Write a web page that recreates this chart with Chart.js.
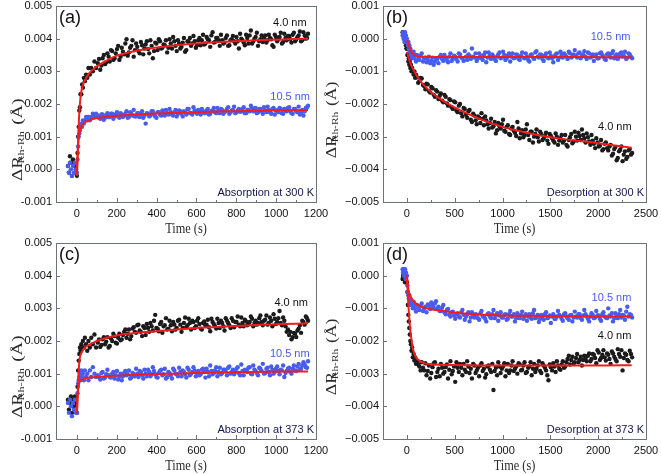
<!DOCTYPE html>
<html>
<head>
<meta charset="utf-8">
<script src="https://cdn.jsdelivr.net/npm/chart.js"></script>
<style>
  body { margin: 0; background: #fff; width: 661px; height: 474px; overflow: hidden; position: relative; }
  canvas { position: absolute; }
</style>
</head>
<body>
<canvas id="cA" width="330" height="237" style="left:0;top:0"></canvas>
<canvas id="cB" width="343" height="237" style="left:318px;top:0"></canvas>
<canvas id="cC" width="330" height="237" style="left:0;top:237px"></canvas>
<canvas id="cD" width="343" height="237" style="left:318px;top:237px"></canvas>
<script>
// ---- axis ticks ----
const xTicksAbs = [0, 200, 400, 600, 800, 1000, 1200];
const xTicksDes = [0, 500, 1000, 1500, 2000, 2500];
const yTicksAbs = [-0.001, 0, 0.001, 0.002, 0.003, 0.004, 0.005];
const yLabelsAbs = ["-0.001", "0.000", "0.001", "0.002", "0.003", "0.004", "0.005"];
const yTicksDes = [-0.005, -0.004, -0.003, -0.002, -0.001, 0, 0.001];
const yLabelsDes = ["\u22120.005", "\u22120.004", "\u22120.003", "\u22120.002", "\u22120.001", "0.000", "0.001"];

// ---- measurement times (s) ----
const timesAbs = [
  -45, -40, -35, -30, -25, -20, -15, -10, -5,
  0, 3, 6, 9, 12, 15, 18, 22, 26, 30, 35, 40, 46, 52, 58, 65, 72, 80, 88, 96,
  105, 117, 129, 141, 153, 165, 177, 189, 201, 213,
  225, 237, 249, 261, 273, 285, 297, 309, 321, 333,
  345, 357, 369, 381, 393, 405, 417, 429, 441, 453,
  465, 477, 489, 501, 513, 525, 537, 549, 561, 573,
  585, 597, 609, 621, 633, 645, 657, 669, 681, 693,
  705, 717, 729, 741, 753, 765, 777, 789, 801, 813,
  825, 837, 849, 861, 873, 885, 897, 909, 921, 933,
  945, 957, 969, 981, 993, 1005, 1017, 1029, 1041, 1053,
  1065, 1077, 1089, 1101, 1113, 1125, 1137, 1149, 1160,
];
const timesAbs2 = [
  111, 123, 135, 147, 159, 171, 183, 195, 207, 219,
  231, 243, 255, 267, 279, 291, 303, 315, 327, 339,
  351, 363, 375, 387, 399, 411, 423, 435, 447, 459,
  471, 483, 495, 507, 519, 531, 543, 555, 567, 579,
  591, 603, 615, 627, 639, 651, 663, 675, 687, 699,
  711, 723, 735, 747, 759, 771, 783, 795, 807, 819,
  831, 843, 855, 867, 879, 891, 903, 915, 927, 939,
  951, 963, 975, 987, 999, 1011, 1023, 1035, 1047, 1059,
  1071, 1083, 1095, 1107, 1119, 1131, 1143, 1155,
];
const timesDes = [
  -45, -40, -35, -30, -25, -20, -15, -10, -5,
  0, 5, 10, 15, 20, 25, 30, 36, 42, 48, 55, 62, 70, 78, 86, 95,
  105, 130, 155, 180, 205, 230, 255, 280, 305, 330,
  355, 380, 405, 430, 455, 480, 505, 530, 555, 580,
  605, 630, 655, 680, 705, 730, 755, 780, 805, 830,
  855, 880, 905, 930, 955, 980, 1005, 1030, 1055, 1080,
  1105, 1130, 1155, 1180, 1205, 1230, 1255, 1280, 1305, 1330,
  1355, 1380, 1405, 1430, 1455, 1480, 1505, 1530, 1555, 1580,
  1605, 1630, 1655, 1680, 1705, 1730, 1755, 1780, 1805, 1830,
  1855, 1880, 1905, 1930, 1955, 1980, 2005, 2030, 2055, 2080,
  2105, 2130, 2155, 2180, 2205, 2230, 2255, 2280, 2305, 2330,
  2355,
];
const timesDes2 = [
  118, 143, 168, 193, 218, 243, 268, 293, 318, 343,
  368, 393, 418, 443, 468, 493, 518, 543, 568, 593,
  618, 643, 668, 693, 718, 743, 768, 793, 818, 843,
  868, 893, 918, 943, 968, 993, 1018, 1043, 1068, 1093,
  1118, 1143, 1168, 1193, 1218, 1243, 1268, 1293, 1318, 1343,
  1368, 1393, 1418, 1443, 1468, 1493, 1518, 1543, 1568, 1593,
  1618, 1643, 1668, 1693, 1718, 1743, 1768, 1793, 1818, 1843,
  1868, 1893, 1918, 1943, 1968, 1993, 2018, 2043, 2068, 2093,
  2118, 2143, 2168, 2193, 2218, 2243, 2268, 2293, 2318, 2343,
];

// ---- (a) absorption at 300 K ----
const absA40 = [
  0.0001, -0.0001, 0.0004, 0.0002, -0.0002, 0.0003, 0.0001, -0.0001, 0.0000,
  -0.0002, 0.0005, 0.0010, 0.0013, 0.0018, 0.0019, 0.0023, 0.0023, 0.0026, 0.0025, 0.0028, 0.0027, 0.0029, 0.0028, 0.0031, 0.0029, 0.0031, 0.0030, 0.0033, 0.0031,
  0.00325, 0.00305, 0.00340, 0.00322, 0.00355, 0.00330, 0.00362, 0.00340, 0.00368, 0.00335,
  0.00372, 0.00352, 0.00398, 0.00358, 0.00378, 0.00345, 0.00385, 0.00362, 0.00390, 0.00352,
  0.00382, 0.00368, 0.00395, 0.00340, 0.00388, 0.00365, 0.00392, 0.00372, 0.00380, 0.00358,
  0.00398, 0.00370, 0.00392, 0.00362, 0.00385, 0.00375, 0.00402, 0.00365, 0.00390, 0.00378,
  0.00408, 0.00372, 0.00395, 0.00380, 0.00412, 0.00385, 0.00398, 0.00375, 0.00420, 0.00390,
  0.00402, 0.00378, 0.00395, 0.00388, 0.00410, 0.00380, 0.00398, 0.00392, 0.00405, 0.00370,
  0.00400, 0.00388, 0.00412, 0.00385, 0.00425, 0.00392, 0.00405, 0.00378, 0.00398, 0.00390,
  0.00410, 0.00395, 0.00402, 0.00380, 0.00412, 0.00392, 0.00405, 0.00385, 0.00415, 0.00395,
  0.00408, 0.00388, 0.00418, 0.00398, 0.00410, 0.00392, 0.00420, 0.00400, 0.00415,
];
const absA40b = [
  0.00338, 0.00318, 0.00350, 0.00328, 0.00345, 0.00365, 0.00335, 0.00355, 0.00378, 0.00345,
  0.00360, 0.00385, 0.00348, 0.00372, 0.00395, 0.00365, 0.00375, 0.00355, 0.00380, 0.00370,
  0.00392, 0.00355, 0.00378, 0.00362, 0.00385, 0.00398, 0.00370, 0.00382, 0.00395, 0.00372,
  0.00385, 0.00405, 0.00378, 0.00395, 0.00370, 0.00388, 0.00360, 0.00392, 0.00402, 0.00385,
  0.00392, 0.00380, 0.00402, 0.00395, 0.00382, 0.00405, 0.00395, 0.00410, 0.00388, 0.00402,
  0.00395, 0.00412, 0.00385, 0.00402, 0.00378, 0.00395, 0.00408, 0.00385, 0.00392, 0.00415,
  0.00395, 0.00380, 0.00402, 0.00410, 0.00385, 0.00400, 0.00418, 0.00392, 0.00410, 0.00402,
  0.00388, 0.00412, 0.00398, 0.00375, 0.00405, 0.00398, 0.00418, 0.00390, 0.00402, 0.00408,
  0.00398, 0.00412, 0.00392, 0.00405, 0.00422, 0.00395, 0.00410, 0.00402,
];
const absA105 = [
  0.0001, -0.0001, 0.0002, 0.0000, -0.0002, 0.0001, -0.0001, 0.0002, 0.0000,
  -0.0001, 0.0003, 0.0007, 0.0010, 0.0011, 0.0012, 0.0013, 0.0014, 0.0013, 0.0015, 0.0014, 0.0015, 0.0016, 0.0015, 0.0016, 0.0015, 0.0016, 0.0017, 0.0016, 0.0017,
  0.00165, 0.00155, 0.00168, 0.00158, 0.00172, 0.00160, 0.00170, 0.00162, 0.00175, 0.00158,
  0.00168, 0.00165, 0.00178, 0.00160, 0.00170, 0.00182, 0.00162, 0.00172, 0.00168, 0.00158,
  0.00140, 0.00170, 0.00165, 0.00178, 0.00162, 0.00175, 0.00168, 0.00180, 0.00165, 0.00172,
  0.00185, 0.00168, 0.00175, 0.00162, 0.00180, 0.00170, 0.00178, 0.00168, 0.00185, 0.00172,
  0.00190, 0.00175, 0.00182, 0.00168, 0.00178, 0.00172, 0.00185, 0.00170, 0.00180, 0.00175,
  0.00188, 0.00172, 0.00182, 0.00176, 0.00185, 0.00170, 0.00180, 0.00192, 0.00175, 0.00185,
  0.00178, 0.00190, 0.00172, 0.00182, 0.00195, 0.00178, 0.00188, 0.00175, 0.00185, 0.00170,
  0.00180, 0.00192, 0.00175, 0.00185, 0.00168, 0.00180, 0.00188, 0.00172, 0.00185, 0.00178,
  0.00190, 0.00172, 0.00185, 0.00178, 0.00192, 0.00175, 0.00165, 0.00188, 0.00195,
];
const absA105b = [
  0.00158, 0.00168, 0.00152, 0.00165, 0.00160, 0.00170, 0.00155, 0.00168, 0.00162, 0.00172,
  0.00160, 0.00170, 0.00158, 0.00175, 0.00165, 0.00162, 0.00172, 0.00160, 0.00178, 0.00165,
  0.00172, 0.00162, 0.00178, 0.00168, 0.00158, 0.00175, 0.00165, 0.00172, 0.00182, 0.00168,
  0.00175, 0.00165, 0.00182, 0.00170, 0.00178, 0.00162, 0.00175, 0.00185, 0.00172, 0.00168,
  0.00180, 0.00170, 0.00178, 0.00185, 0.00172, 0.00180, 0.00168, 0.00178, 0.00188, 0.00172,
  0.00180, 0.00185, 0.00170, 0.00178, 0.00190, 0.00175, 0.00182, 0.00172, 0.00180, 0.00176,
  0.00185, 0.00172, 0.00182, 0.00178, 0.00188, 0.00180, 0.00172, 0.00185, 0.00178, 0.00190,
  0.00175, 0.00182, 0.00170, 0.00188, 0.00180, 0.00175, 0.00185, 0.00170, 0.00180, 0.00188,
  0.00178, 0.00170, 0.00185, 0.00175, 0.00168, 0.00182, 0.00178, 0.00190,
];

// ---- (c) absorption at 373 K ----
const absC40 = [
  0.0002, -0.0001, 0.0001, 0.0003, -0.0002, 0.0002, 0.0000, 0.0003, 0.0001,
  -0.0002, 0.0006, 0.0011, 0.0014, 0.0016, 0.0018, 0.0017, 0.0019, 0.0018, 0.0020, 0.0018, 0.0021, 0.0019, 0.0017, 0.0020, 0.0018, 0.0021, 0.0019, 0.0022, 0.0018,
  0.00195, 0.00182, 0.00205, 0.00190, 0.00212, 0.00185, 0.00200, 0.00215, 0.00192, 0.00222,
  0.00205, 0.00228, 0.00210, 0.00235, 0.00215, 0.00242, 0.00225, 0.00250, 0.00228, 0.00245,
  0.00218, 0.00240, 0.00255, 0.00232, 0.00280, 0.00238, 0.00252, 0.00225, 0.00248, 0.00235,
  0.00262, 0.00230, 0.00250, 0.00240, 0.00265, 0.00228, 0.00255, 0.00242, 0.00268, 0.00235,
  0.00258, 0.00245, 0.00270, 0.00238, 0.00255, 0.00248, 0.00265, 0.00230, 0.00258, 0.00245,
  0.00268, 0.00240, 0.00255, 0.00232, 0.00262, 0.00248, 0.00270, 0.00242, 0.00258, 0.00250,
  0.00272, 0.00245, 0.00260, 0.00252, 0.00275, 0.00245, 0.00262, 0.00255, 0.00278, 0.00248,
  0.00265, 0.00250, 0.00272, 0.00245, 0.00268, 0.00258, 0.00292, 0.00248, 0.00262, 0.00228,
  0.00218, 0.00205, 0.00225, 0.00212, 0.00238, 0.00225, 0.00258, 0.00275, 0.00262,
];
const absC40b = [
  0.00205, 0.00188, 0.00212, 0.00198, 0.00180, 0.00208, 0.00222, 0.00195, 0.00210, 0.00202,
  0.00218, 0.00235, 0.00222, 0.00205, 0.00238, 0.00228, 0.00248, 0.00232, 0.00215, 0.00240,
  0.00252, 0.00228, 0.00245, 0.00262, 0.00240, 0.00230, 0.00258, 0.00245, 0.00270, 0.00238,
  0.00248, 0.00258, 0.00235, 0.00262, 0.00250, 0.00240, 0.00272, 0.00248, 0.00255, 0.00262,
  0.00240, 0.00262, 0.00252, 0.00235, 0.00260, 0.00250, 0.00242, 0.00268, 0.00252, 0.00238,
  0.00255, 0.00262, 0.00245, 0.00270, 0.00255, 0.00240, 0.00262, 0.00258, 0.00275, 0.00245,
  0.00255, 0.00265, 0.00248, 0.00258, 0.00268, 0.00255, 0.00250, 0.00270, 0.00258, 0.00262,
  0.00278, 0.00255, 0.00262, 0.00282, 0.00252, 0.00270, 0.00255, 0.00272, 0.00245, 0.00235,
  0.00228, 0.00212, 0.00222, 0.00232, 0.00248, 0.00262, 0.00250, 0.00270,
];
const absC105 = [
  0.0001, -0.0002, 0.0002, 0.0000, -0.0003, 0.0001, -0.0001, 0.0002, -0.0002,
  -0.0002, 0.0004, 0.0007, 0.0008, 0.0009, 0.0010, 0.0008, 0.0011, 0.0009, 0.0010, 0.0008, 0.0011, 0.0009, 0.0010, 0.0008, 0.0011, 0.0009, 0.0012, 0.0010, 0.0009,
  0.00095, 0.00082, 0.00105, 0.00088, 0.00112, 0.00090, 0.00100, 0.00085, 0.00108, 0.00092,
  0.00080, 0.00102, 0.00095, 0.00110, 0.00088, 0.00098, 0.00115, 0.00090, 0.00105, 0.00085,
  0.00100, 0.00112, 0.00092, 0.00120, 0.00098, 0.00088, 0.00108, 0.00095, 0.00115, 0.00090,
  0.00102, 0.00085, 0.00110, 0.00098, 0.00118, 0.00092, 0.00105, 0.00088, 0.00112, 0.00100,
  0.00120, 0.00092, 0.00108, 0.00098, 0.00115, 0.00088, 0.00105, 0.00125, 0.00098, 0.00110,
  0.00092, 0.00118, 0.00102, 0.00112, 0.00095, 0.00122, 0.00105, 0.00098, 0.00115, 0.00102,
  0.00128, 0.00095, 0.00110, 0.00118, 0.00100, 0.00125, 0.00108, 0.00095, 0.00115, 0.00130,
  0.00102, 0.00118, 0.00095, 0.00112, 0.00105, 0.00122, 0.00098, 0.00110, 0.00090, 0.00108,
  0.00118, 0.00100, 0.00125, 0.00108, 0.00130, 0.00115, 0.00135, 0.00120, 0.00138,
];
const absC105b = [
  0.00090, 0.00102, 0.00085, 0.00098, 0.00095, 0.00088, 0.00105, 0.00095, 0.00082, 0.00100,
  0.00092, 0.00108, 0.00098, 0.00085, 0.00102, 0.00092, 0.00100, 0.00108, 0.00095, 0.00112,
  0.00092, 0.00105, 0.00098, 0.00108, 0.00090, 0.00102, 0.00112, 0.00098, 0.00085, 0.00105,
  0.00095, 0.00115, 0.00100, 0.00092, 0.00105, 0.00110, 0.00098, 0.00118, 0.00095, 0.00105,
  0.00110, 0.00102, 0.00095, 0.00112, 0.00105, 0.00115, 0.00092, 0.00108, 0.00102, 0.00120,
  0.00105, 0.00098, 0.00112, 0.00108, 0.00118, 0.00100, 0.00112, 0.00105, 0.00120, 0.00095,
  0.00108, 0.00112, 0.00105, 0.00120, 0.00098, 0.00112, 0.00102, 0.00118, 0.00108, 0.00100,
  0.00115, 0.00105, 0.00122, 0.00100, 0.00115, 0.00108, 0.00112, 0.00125, 0.00102, 0.00115,
  0.00105, 0.00115, 0.00110, 0.00122, 0.00112, 0.00125, 0.00128, 0.00118,
];

// ---- (b) desorption at 300 K ----
const desB40 = [
  0.0002, 0.0001, 0.0002, 0.0000, 0.0001, -0.0001, 0.0000, -0.0002, -0.0003,
  -0.0003, -0.0005, -0.0005, -0.0007, -0.0006, -0.0008, -0.0007, -0.0009, -0.0008, -0.0010, -0.0009, -0.0010, -0.0011, -0.0010, -0.0012, -0.0011,
  -0.00118, -0.00130, -0.00122, -0.00145, -0.00138, -0.00160, -0.00148, -0.00172, -0.00158, -0.00185,
  -0.00168, -0.00195, -0.00178, -0.00205, -0.00188, -0.00215, -0.00195, -0.00225, -0.00200, -0.00238,
  -0.00215, -0.00242, -0.00218, -0.00255, -0.00235, -0.00262, -0.00242, -0.00228, -0.00265, -0.00250,
  -0.00275, -0.00245, -0.00268, -0.00290, -0.00258, -0.00275, -0.00248, -0.00285, -0.00265, -0.00295,
  -0.00270, -0.00288, -0.00255, -0.00305, -0.00280, -0.00295, -0.00262, -0.00310, -0.00285, -0.00300,
  -0.00278, -0.00315, -0.00292, -0.00305, -0.00288, -0.00322, -0.00298, -0.00312, -0.00290, -0.00325,
  -0.00305, -0.00318, -0.00295, -0.00330, -0.00302, -0.00320, -0.00285, -0.00312, -0.00298, -0.00278,
  -0.00305, -0.00290, -0.00315, -0.00295, -0.00322, -0.00305, -0.00330, -0.00310, -0.00338, -0.00318,
  -0.00342, -0.00325, -0.00352, -0.00332, -0.00365, -0.00340, -0.00375, -0.00345, -0.00362, -0.00338,
  -0.00350,
];
const desB40b = [
  -0.00135, -0.00120, -0.00142, -0.00155, -0.00140, -0.00165, -0.00152, -0.00178, -0.00162, -0.00175,
  -0.00190, -0.00172, -0.00198, -0.00185, -0.00210, -0.00192, -0.00220, -0.00205, -0.00228, -0.00212,
  -0.00232, -0.00222, -0.00248, -0.00230, -0.00250, -0.00238, -0.00258, -0.00245, -0.00238, -0.00262,
  -0.00258, -0.00272, -0.00255, -0.00280, -0.00268, -0.00262, -0.00282, -0.00270, -0.00292, -0.00275,
  -0.00282, -0.00298, -0.00275, -0.00290, -0.00302, -0.00278, -0.00295, -0.00285, -0.00318, -0.00292,
  -0.00302, -0.00285, -0.00310, -0.00298, -0.00312, -0.00292, -0.00305, -0.00318, -0.00300, -0.00312,
  -0.00295, -0.00312, -0.00325, -0.00310, -0.00292, -0.00315, -0.00300, -0.00288, -0.00310, -0.00295,
  -0.00318, -0.00302, -0.00325, -0.00312, -0.00335, -0.00318, -0.00328, -0.00342, -0.00322, -0.00335,
  -0.00330, -0.00358, -0.00338, -0.00372, -0.00345, -0.00330, -0.00355, -0.00368, -0.00342, -0.00355,
];
const desB105 = [
  0.0001, 0.0002, 0.0000, 0.0001, -0.0001, 0.0002, 0.0000, 0.0001, -0.0001,
  0.0000, -0.0001, -0.0002, -0.0001, -0.0003, -0.0002, -0.0004, -0.0003, -0.0005, -0.0004, -0.0006, -0.0005, -0.0004, -0.0006, -0.0005, -0.0007,
  -0.00050, -0.00065, -0.00045, -0.00060, -0.00072, -0.00055, -0.00068, -0.00080, -0.00060, -0.00075,
  -0.00050, -0.00068, -0.00058, -0.00072, -0.00045, -0.00062, -0.00055, -0.00070, -0.00048, -0.00060,
  -0.00038, -0.00065, -0.00052, -0.00030, -0.00058, -0.00068, -0.00045, -0.00060, -0.00050, -0.00072,
  -0.00042, -0.00062, -0.00055, -0.00068, -0.00048, -0.00060, -0.00040, -0.00065, -0.00052, -0.00070,
  -0.00045, -0.00058, -0.00050, -0.00065, -0.00042, -0.00060, -0.00055, -0.00070, -0.00048, -0.00062,
  -0.00038, -0.00058, -0.00050, -0.00068, -0.00045, -0.00060, -0.00052, -0.00072, -0.00048, -0.00065,
  -0.00040, -0.00058, -0.00050, -0.00062, -0.00045, -0.00055, -0.00035, -0.00058, -0.00042, -0.00052,
  -0.00038, -0.00062, -0.00045, -0.00055, -0.00068, -0.00048, -0.00060, -0.00042, -0.00055, -0.00065,
  -0.00045, -0.00058, -0.00038, -0.00052, -0.00062, -0.00045, -0.00055, -0.00040, -0.00058, -0.00048,
  -0.00060,
];
const desB105b = [
  -0.00062, -0.00052, -0.00070, -0.00058, -0.00065, -0.00075, -0.00058, -0.00070, -0.00062, -0.00055,
  -0.00062, -0.00050, -0.00065, -0.00055, -0.00068, -0.00052, -0.00062, -0.00045, -0.00058, -0.00068,
  -0.00055, -0.00048, -0.00062, -0.00055, -0.00045, -0.00060, -0.00052, -0.00065, -0.00042, -0.00058,
  -0.00052, -0.00048, -0.00062, -0.00055, -0.00042, -0.00058, -0.00050, -0.00060, -0.00045, -0.00055,
  -0.00060, -0.00048, -0.00062, -0.00052, -0.00058, -0.00045, -0.00065, -0.00050, -0.00058, -0.00042,
  -0.00055, -0.00048, -0.00062, -0.00052, -0.00058, -0.00042, -0.00060, -0.00055, -0.00045, -0.00058,
  -0.00050, -0.00045, -0.00055, -0.00040, -0.00058, -0.00048, -0.00052, -0.00045, -0.00060, -0.00048,
  -0.00055, -0.00042, -0.00058, -0.00048, -0.00052, -0.00060, -0.00045, -0.00050, -0.00062, -0.00048,
  -0.00052, -0.00045, -0.00060, -0.00048, -0.00055, -0.00042, -0.00052, -0.00062, -0.00045, -0.00055,
];

// ---- (d) desorption at 373 K ----
const desD40 = [
  -0.0001, 0.0000, 0.0001, -0.0001, 0.0000, -0.0002, 0.0000, -0.0001, -0.0002,
  -0.0002, -0.0005, -0.0009, -0.0012, -0.0014, -0.0016, -0.0018, -0.0020, -0.0021, -0.0023, -0.0022, -0.0025, -0.0024, -0.0026, -0.0025, -0.0027,
  -0.00262, -0.00278, -0.00265, -0.00290, -0.00305, -0.00275, -0.00298, -0.00268, -0.00310, -0.00285,
  -0.00270, -0.00300, -0.00280, -0.00315, -0.00262, -0.00292, -0.00325, -0.00282, -0.00270, -0.00305,
  -0.00288, -0.00262, -0.00298, -0.00315, -0.00275, -0.00290, -0.00308, -0.00268, -0.00285, -0.00302,
  -0.00275, -0.00295, -0.00350, -0.00282, -0.00265, -0.00298, -0.00278, -0.00308, -0.00270, -0.00290,
  -0.00262, -0.00285, -0.00300, -0.00272, -0.00288, -0.00265, -0.00295, -0.00278, -0.00305, -0.00270,
  -0.00285, -0.00262, -0.00298, -0.00275, -0.00290, -0.00320, -0.00280, -0.00268, -0.00295, -0.00275,
  -0.00288, -0.00262, -0.00278, -0.00255, -0.00272, -0.00248, -0.00265, -0.00240, -0.00258, -0.00275,
  -0.00245, -0.00262, -0.00238, -0.00255, -0.00242, -0.00268, -0.00235, -0.00252, -0.00228, -0.00260,
  -0.00242, -0.00270, -0.00238, -0.00255, -0.00225, -0.00248, -0.00290, -0.00238, -0.00258, -0.00230,
  -0.00250,
];
const desD40b = [
  -0.00272, -0.00290, -0.00282, -0.00268, -0.00292, -0.00315, -0.00280, -0.00265, -0.00295, -0.00308,
  -0.00282, -0.00295, -0.00272, -0.00288, -0.00302, -0.00278, -0.00265, -0.00295, -0.00282, -0.00270,
  -0.00295, -0.00278, -0.00285, -0.00270, -0.00298, -0.00282, -0.00275, -0.00292, -0.00312, -0.00278,
  -0.00288, -0.00270, -0.00292, -0.00305, -0.00278, -0.00285, -0.00268, -0.00290, -0.00298, -0.00275,
  -0.00292, -0.00278, -0.00268, -0.00290, -0.00275, -0.00298, -0.00282, -0.00265, -0.00285, -0.00295,
  -0.00275, -0.00292, -0.00268, -0.00282, -0.00305, -0.00272, -0.00290, -0.00278, -0.00262, -0.00285,
  -0.00272, -0.00282, -0.00265, -0.00245, -0.00258, -0.00270, -0.00252, -0.00265, -0.00248, -0.00258,
  -0.00252, -0.00245, -0.00262, -0.00240, -0.00252, -0.00228, -0.00258, -0.00242, -0.00250, -0.00238,
  -0.00255, -0.00232, -0.00248, -0.00262, -0.00240, -0.00228, -0.00252, -0.00242, -0.00262, -0.00240,
];
const desD105 = [
  0.0002, 0.0001, 0.0002, 0.0000, 0.0001, 0.0002, -0.0001, 0.0001, 0.0000,
  0.0000, -0.0003, -0.0005, -0.0006, -0.0007, -0.0006, -0.0008, -0.0007, -0.0009, -0.0008, -0.0009, -0.0010, -0.0008, -0.0010, -0.0009, -0.0011,
  -0.00090, -0.00105, -0.00085, -0.00100, -0.00112, -0.00092, -0.00082, -0.00098, -0.00078, -0.00095,
  -0.00108, -0.00090, -0.00118, -0.00102, -0.00125, -0.00110, -0.00132, -0.00115, -0.00128, -0.00105,
  -0.00135, -0.00118, -0.00140, -0.00112, -0.00128, -0.00120, -0.00135, -0.00108, -0.00125, -0.00140,
  -0.00115, -0.00130, -0.00105, -0.00122, -0.00138, -0.00112, -0.00128, -0.00118, -0.00132, -0.00108,
  -0.00125, -0.00140, -0.00115, -0.00130, -0.00110, -0.00125, -0.00138, -0.00118, -0.00132, -0.00105,
  -0.00128, -0.00142, -0.00120, -0.00135, -0.00112, -0.00128, -0.00145, -0.00118, -0.00132, -0.00108,
  -0.00125, -0.00138, -0.00115, -0.00130, -0.00122, -0.00140, -0.00110, -0.00128, -0.00118, -0.00135,
  -0.00105, -0.00125, -0.00140, -0.00115, -0.00130, -0.00108, -0.00122, -0.00138, -0.00112, -0.00128,
  -0.00100, -0.00125, -0.00140, -0.00115, -0.00130, -0.00105, -0.00120, -0.00135, -0.00095, -0.00118,
  -0.00128,
];
const desD105b = [
  -0.00100, -0.00092, -0.00108, -0.00095, -0.00088, -0.00102, -0.00092, -0.00085, -0.00100, -0.00108,
  -0.00098, -0.00112, -0.00105, -0.00120, -0.00112, -0.00122, -0.00118, -0.00125, -0.00112, -0.00120,
  -0.00125, -0.00112, -0.00128, -0.00122, -0.00118, -0.00130, -0.00115, -0.00125, -0.00132, -0.00118,
  -0.00125, -0.00118, -0.00130, -0.00115, -0.00122, -0.00128, -0.00120, -0.00135, -0.00118, -0.00125,
  -0.00118, -0.00130, -0.00122, -0.00120, -0.00132, -0.00118, -0.00125, -0.00128, -0.00115, -0.00130,
  -0.00120, -0.00132, -0.00125, -0.00118, -0.00130, -0.00122, -0.00125, -0.00132, -0.00125, -0.00120,
  -0.00132, -0.00118, -0.00125, -0.00135, -0.00120, -0.00128, -0.00125, -0.00118, -0.00130, -0.00122,
  -0.00118, -0.00132, -0.00125, -0.00120, -0.00128, -0.00122, -0.00132, -0.00118, -0.00125, -0.00130,
  -0.00122, -0.00115, -0.00130, -0.00125, -0.00118, -0.00128, -0.00122, -0.00110, -0.00125, -0.00120,
];

// ---- fitted curves ----
const fitTimesAbs = [0, 5, 10, 15, 20, 30, 40, 60, 80, 100, 150, 200, 300, 400, 500, 600, 700, 800, 900, 1000, 1100, 1160];
const fitA40 = [-0.0002, 0.0007, 0.0015, 0.0020, 0.0023, 0.00258, 0.00272, 0.00293, 0.00305, 0.00315, 0.00333, 0.00348, 0.00363, 0.00373, 0.0038, 0.00385, 0.00389, 0.00392, 0.00395, 0.00397, 0.00399, 0.0040];
const fitA105 = [-0.0001, 0.0006, 0.0010, 0.00118, 0.00128, 0.00138, 0.00144, 0.0015, 0.00154, 0.00157, 0.00161, 0.00164, 0.00168, 0.00171, 0.00173, 0.00175, 0.00177, 0.00178, 0.00179, 0.0018, 0.00181, 0.00182];
const fitC40 = [-0.0002, 0.0006, 0.0012, 0.0015, 0.0016, 0.00172, 0.0018, 0.00188, 0.00194, 0.0020, 0.0021, 0.00217, 0.00225, 0.0023, 0.00235, 0.0024, 0.00243, 0.00246, 0.00249, 0.00251, 0.00253, 0.00254];
const fitC105 = [-0.0002, 0.0004, 0.0007, 0.00076, 0.0008, 0.00083, 0.00085, 0.00088, 0.00089, 0.0009, 0.00092, 0.00094, 0.00097, 0.00099, 0.0010, 0.00102, 0.00103, 0.00104, 0.00105, 0.00106, 0.00107, 0.00107];
const fitTimesDes = [0, 10, 20, 30, 40, 50, 60, 80, 100, 130, 170, 250, 400, 600, 800, 1000, 1300, 1600, 2000, 2350];
const fitB40 = [-0.0004, -0.0005, -0.0006, -0.0007, -0.00078, -0.00085, -0.00091, -0.00102, -0.00112, -0.00125, -0.0014, -0.00163, -0.00194, -0.00225, -0.0025, -0.0027, -0.00291, -0.00306, -0.0032, -0.00334];
const fitB105 = [-0.00005, -0.0001, -0.0002, -0.00028, -0.00035, -0.0004, -0.00045, -0.0005, -0.00053, -0.00055, -0.00055, -0.00056, -0.00056, -0.00056, -0.00056, -0.00056, -0.00056, -0.00056, -0.00057, -0.00057];
const fitD40 = [0.0, -0.0006, -0.0011, -0.0015, -0.0018, -0.0020, -0.0022, -0.0024, -0.00252, -0.0026, -0.00267, -0.00271, -0.00273, -0.00274, -0.00275, -0.00275, -0.00275, -0.00275, -0.00275, -0.00274];
const fitD105 = [0.0, -0.0003, -0.00048, -0.00058, -0.00065, -0.0007, -0.00074, -0.00081, -0.00087, -0.00092, -0.00097, -0.00103, -0.00109, -0.00116, -0.0012, -0.00122, -0.00123, -0.00124, -0.00125, -0.00125];

const BLACK = "#1b1b1b";
const BLUE = "rgb(72, 92, 238)";
const RED = "rgb(242, 28, 28)";
const FRAME = "#6a737c";
const SANS = '"Liberation Sans", Arial, sans-serif';
const SERIF = '"Liberation Serif", "Times New Roman", serif';

function pts(xs, ys) {
  return xs.map((x, i) => ({ x, y: ys[i] }));
}

function drawYTitle(ctx, cx, cy, len) {
  ctx.save();
  ctx.translate(cx, cy);
  ctx.rotate(-Math.PI / 2);
  const big = "14px " + SERIF, small = "9px " + SERIF;
  ctx.font = big;
  const w1 = ctx.measureText("\u0394R").width;
  const w3 = ctx.measureText("(\u00c5)").width;
  ctx.font = small;
  const w2 = ctx.measureText("Rh-Rh").width;
  const total = w1 + w2 + w3;
  ctx.scale(len / total, 1);
  ctx.fillStyle = "#2b2b2b";
  ctx.textBaseline = "middle";
  let x = -total / 2;
  ctx.font = big; ctx.fillText("\u0394R", x, 0); x += w1;
  ctx.font = small; ctx.fillText("Rh-Rh", x, 4); x += w2;
  ctx.font = big; ctx.fillText("(\u00c5)", x, 0);
  ctx.restore();
}

// frame, inward ticks and all the text that is not a tick label
const decor = {
  id: "decor",
  afterDraw(chart, args, o) {
    const { ctx, chartArea: a } = chart;
    const sx = chart.scales.x, sy = chart.scales.y;
    ctx.save();
    ctx.strokeStyle = FRAME;
    ctx.lineWidth = 1;
    ctx.strokeRect(Math.round(a.left) + 0.5, Math.round(a.top) + 0.5, Math.round(a.right - a.left), Math.round(a.bottom - a.top));
    const tick = (x1, y1, x2, y2) => { ctx.beginPath(); ctx.moveTo(x1, y1); ctx.lineTo(x2, y2); ctx.stroke(); };
    const xt = o.xTicks;
    xt.forEach((v, i) => {
      const px = Math.round(sx.getPixelForValue(v)) + 0.5;
      if (px > a.left + 1 && px < a.right - 1) tick(px, a.bottom, px, a.bottom - 4);
      if (i < xt.length - 1) {
        const mx = Math.round(sx.getPixelForValue((v + xt[i + 1]) / 2)) + 0.5;
        if (mx < a.right - 1) tick(mx, a.bottom, mx, a.bottom - 2);
      }
    });
    o.yTicks.forEach((v) => {
      const py = Math.round(sy.getPixelForValue(v)) + 0.5;
      if (py > a.top + 1 && py < a.bottom - 1) tick(a.left, py, a.left + 4, py);
    });
    // panel letter
    ctx.fillStyle = "#111";
    ctx.font = "18px " + SANS;
    ctx.textBaseline = "middle";
    ctx.textAlign = "left";
    ctx.fillText(o.letter, a.left + 3, a.top + 12);
    // series labels
    ctx.font = "11px " + SANS;
    ctx.textAlign = "right";
    o.labels.forEach((l) => {
      ctx.fillStyle = l.color;
      ctx.fillText(l.text, sx.getPixelForValue(l.x), sy.getPixelForValue(l.y));
    });
    ctx.fillStyle = "#15154f";
    ctx.fillText(o.cond, a.right - 2, a.bottom - 9.5);
    // x title
    ctx.save();
    ctx.translate((a.left + a.right) / 2, 229);
    ctx.scale(0.88, 1);
    ctx.textAlign = "center";
    ctx.fillStyle = "#2b2b2b";
    ctx.font = "14px " + SERIF;
    ctx.fillText("Time (s)", 0, 0);
    ctx.restore();
    drawYTitle(ctx, o.yTitleX, o.yTitleY, o.yTitleLen);
    ctx.restore();
  },
};

function panel(id, o) {
  const dot = (data, color, order) => ({
    data, order,
    pointRadius: 2.2,
    pointHoverRadius: 0,
    pointBorderWidth: 0,
    backgroundColor: color,
    borderColor: color,
  });
  const fit = (data) => ({
    type: "line", data, order: 0,
    borderColor: RED, borderWidth: 2, pointRadius: 0,
    cubicInterpolationMode: "monotone", fill: false,
  });
  return new Chart(document.getElementById(id), {
    type: "scatter",
    data: {
      datasets: [
        fit(pts(o.fitX, o.fit40)),
        fit(pts(o.fitX, o.fit105)),
        dot(pts(o.tx, o.y105).concat(pts(o.tx2, o.y105b)), BLUE, 1),
        dot(pts(o.tx, o.y40).concat(pts(o.tx2, o.y40b)), BLACK, 2),
      ],
    },
    plugins: [decor],
    options: {
      responsive: false,
      animation: false,
      events: [],
      layout: { padding: { left: 0, top: 6, right: o.padRight, bottom: 0 } },
      plugins: {
        legend: { display: false },
        tooltip: { enabled: false },
        decor: o.decor,
      },
      scales: {
        x: {
          type: "linear", min: o.xMin, max: o.xMax,
          afterBuildTicks: (s) => { s.ticks = o.decor.xTicks.map((v) => ({ value: v })); },
          afterFit: (s) => { s.height = 35; s.paddingLeft = 0; s.paddingRight = 0; },
          grid: { display: false, drawTicks: false },
          border: { display: false },
          ticks: { padding: 5, color: "#111", font: { family: SANS, size: 11 }, maxRotation: 0, autoSkip: false, callback: (v) => String(v) },
        },
        y: {
          type: "linear", min: o.yMin, max: o.yMax,
          afterBuildTicks: (s) => { s.ticks = o.decor.yTicks.map((v) => ({ value: v })); },
          afterFit: (s) => { s.width = o.yWidth; s.paddingTop = 0; s.paddingBottom = 0; },
          grid: { display: false, drawTicks: false },
          border: { display: false },
          ticks: { padding: 4, color: "#111", font: { family: SANS, size: 11 }, autoSkip: false, callback: (v, i) => o.yLabels[i] },
        },
      },
    },
  });
}

panel("cA", {
  tx: timesAbs, y40: absA40, y105: absA105, tx2: timesAbs2, y40b: absA40b, y105b: absA105b,
  fitX: fitTimesAbs, fit40: fitA40, fit105: fitA105,
  xMin: -105, xMax: 1200, yMin: -0.001, yMax: 0.005, yLabels: yLabelsAbs, yWidth: 56, padRight: 14,
  decor: {
    xTicks: xTicksAbs, yTicks: yTicksAbs, letter: "(a)", cond: "Absorption at 300 K",
    yTitleX: 18, yTitleY: 114, yTitleLen: 84,
    labels: [
      { text: "4.0 nm", x: 1153, y: 0.00448, color: "#111" },
      { text: "10.5 nm", x: 1170, y: 0.00222, color: BLUE },
    ],
  },
});
panel("cB", {
  tx: timesDes, y40: desB40, y105: desB105, tx2: timesDes2, y40b: desB40b, y105b: desB105b,
  fitX: fitTimesDes, fit40: fitB40, fit105: fitB105,
  xMin: -250, xMax: 2500, yMin: -0.005, yMax: 0.001, yLabels: yLabelsDes, yWidth: 65, padRight: 15,
  decor: {
    xTicks: xTicksDes, yTicks: yTicksDes, letter: "(b)", cond: "Desorption at 300 K",
    yTitleX: 14, yTitleY: 96, yTitleLen: 78,
    labels: [
      { text: "10.5 nm", x: 2337, y: 0.00005, color: BLUE },
      { text: "4.0 nm", x: 2350, y: -0.0027, color: "#111" },
    ],
  },
});
panel("cC", {
  tx: timesAbs, y40: absC40, y105: absC105, tx2: timesAbs2, y40b: absC40b, y105b: absC105b,
  fitX: fitTimesAbs, fit40: fitC40, fit105: fitC105,
  xMin: -105, xMax: 1200, yMin: -0.001, yMax: 0.005, yLabels: yLabelsAbs, yWidth: 56, padRight: 14,
  decor: {
    xTicks: xTicksAbs, yTicks: yTicksAbs, letter: "(c)", cond: "Absorption at 373 K",
    yTitleX: 18, yTitleY: 114, yTitleLen: 84,
    labels: [
      { text: "4.0 nm", x: 1160, y: 0.00316, color: "#111" },
      { text: "10.5 nm", x: 1168, y: 0.00159, color: BLUE },
    ],
  },
});
panel("cD", {
  tx: timesDes, y40: desD40, y105: desD105, tx2: timesDes2, y40b: desD40b, y105b: desD105b,
  fitX: fitTimesDes, fit40: fitD40, fit105: fitD105,
  xMin: -250, xMax: 2500, yMin: -0.005, yMax: 0.001, yLabels: yLabelsDes, yWidth: 65, padRight: 15,
  decor: {
    xTicks: xTicksDes, yTicks: yTicksDes, letter: "(d)", cond: "Desorption at 373 K",
    yTitleX: 14, yTitleY: 96, yTitleLen: 78,
    labels: [
      { text: "10.5 nm", x: 2347, y: -0.00069, color: BLUE },
      { text: "4.0 nm", x: 2347, y: -0.00184, color: "#111" },
    ],
  },
});
</script>
</body>
</html>
